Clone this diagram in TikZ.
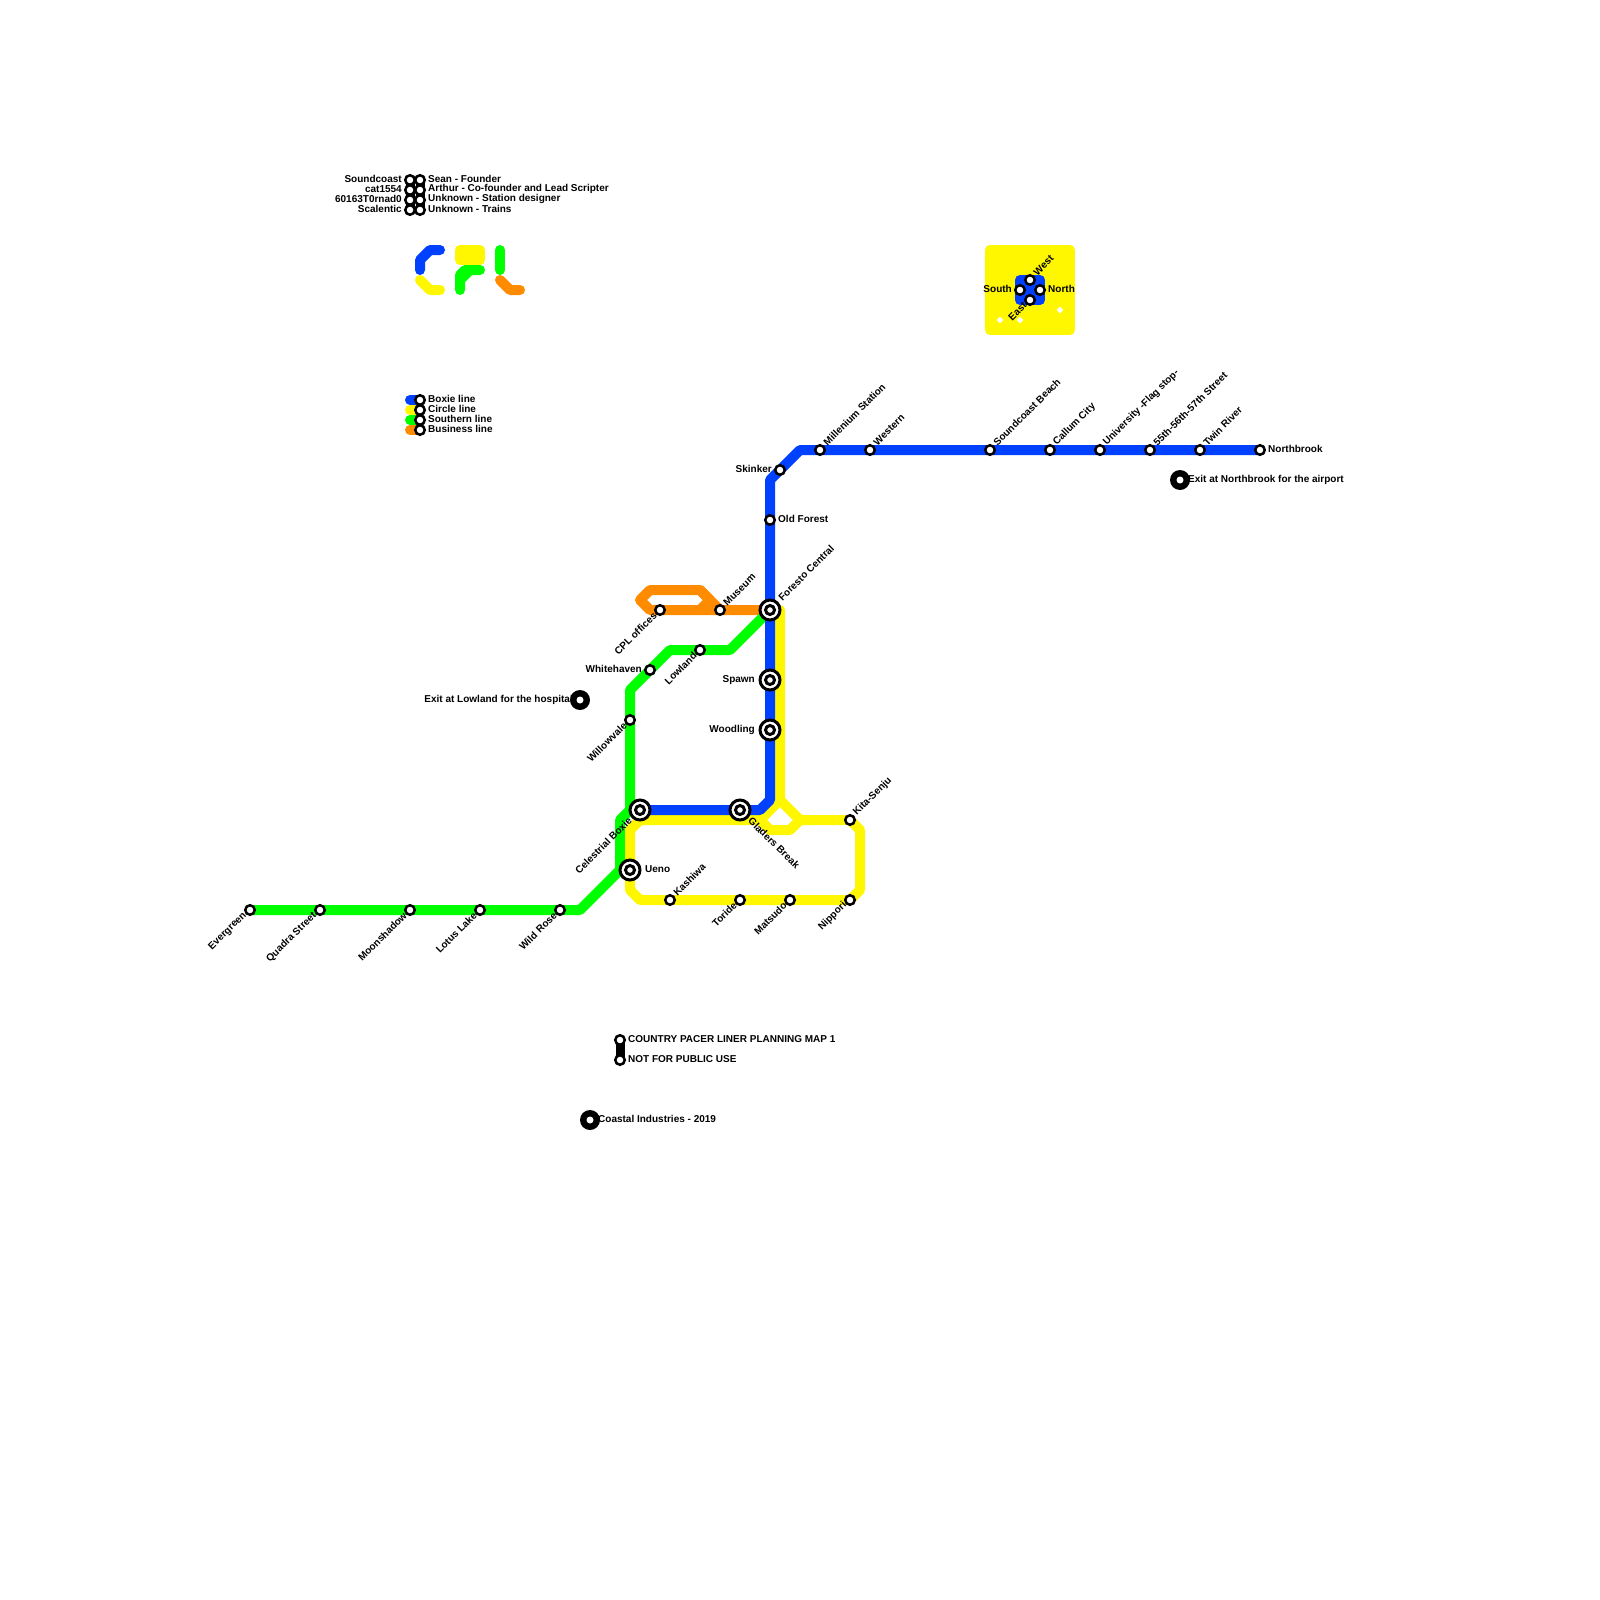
\documentclass[tikz,border=0pt]{standalone}
\usepackage{fontspec}
\setmainfont{Liberation Sans}
\usetikzlibrary{backgrounds, shapes.geometric}

\begin{document}
\begin{tikzpicture}[
    x=1pt, y=-1pt,
    % Define node styles
    stn/.style={circle, draw=black, fill=white, line width=2.5pt, minimum size=9.5pt, inner sep=0pt},
    hub/.style={circle, draw=black, fill=white, line width=3pt, minimum size=20pt, inner sep=0pt},
    hubin/.style={circle, draw=black, fill=white, line width=3pt, minimum size=9pt, inner sep=0pt},
    dot/.style={circle, fill=black, minimum size=20pt, inner sep=0pt},
    dotin/.style={circle, fill=white, minimum size=7pt, inner sep=0pt},
    spark/.style={diamond, fill=white, minimum size=7pt, inner sep=0pt},
    lbl/.style={font=\fontsize{10}{10}\selectfont\bfseries, inner sep=0pt, yshift=1pt},
    lblE/.style={lbl, anchor=west, xshift=8pt},
    lblW/.style={lbl, anchor=east, xshift=-8pt},
    lblNE/.style={lbl, rotate=45, anchor=west, xshift=7pt},
    lblSW/.style={lbl, rotate=45, anchor=east, xshift=-7pt},
    % Define edge styles
    edge/.style={line width=10pt, line cap=round, line join=round},
    link/.style={line width=9pt, draw=black},
]

\definecolor{boxie}{RGB}{0,64,255}
\definecolor{circleln}{RGB}{255,247,0}
\definecolor{southern}{RGB}{0,255,0}
\definecolor{business}{RGB}{255,140,0}

\useasboundingbox (0,0) rectangle (1600,1600);

% Drawing the stations with a label on the upper right
\foreach \nm/\x/\y/\txt in {Millenium/820/450/Millenium Station, Western/870/450/Western,
    SoundBeach/990/450/Soundcoast Beach, Callum/1050/450/Callum City, University/1100/450/University -Flag stop-,
    Fifty/1150/450/55th-56th-57th Street, TwinRiver/1200/450/Twin River, Museum/720/610/Museum,
    Kashiwa/670/900/Kashiwa, KitaSenju/850/820/Kita-Senju, West/1030/280/West} {
    \node[stn] (\nm) at (\x,\y) {};
    \node[lblNE] (\nm-l) at (\nm) {\txt};
}

% Drawing the stations with a label on the lower left
\foreach \nm/\x/\y/\txt in {Evergreen/250/910/Evergreen, Quadra/320/910/Quadra Street, Moonshadow/410/910/Moonshadow,
    Lotus/480/910/Lotus Lake, WildRose/560/910/Wild Rose, Willowvale/630/720/Willowvale, Lowland/700/650/Lowland,
    CPL/660/610/CPL offices, Toride/740/900/Toride, Matsudo/790/900/Matsudo, Nippori/850/900/Nippori, East/1030/300/East} {
    \node[stn] (\nm) at (\x,\y) {};
    \node[lblSW] (\nm-l) at (\nm) {\txt};
}

% Drawing the stations with a label on the right
\foreach \nm/\x/\y/\txt in {OldForest/770/520/Old Forest, Northbrook/1260/450/Northbrook, North/1040/290/North,
    Boxie/420/400/Boxie line, Circle/420/410/Circle line, Southern/420/420/Southern line, Business/420/430/Business line,
    Sean/420/180/Sean - Founder, Arthur/420/190/Arthur - Co-founder and Lead Scripter,
    Designer/420/200/Unknown - Station designer, Trains/420/210/Unknown - Trains,
    Country/620/1040/COUNTRY PACER LINER PLANNING MAP 1, Public/620/1060/NOT FOR PUBLIC USE} {
    \node[stn] (\nm) at (\x,\y) {};
    \node[lblE] (\nm-l) at (\nm) {\txt};
}

% Drawing the stations with a label on the left
\foreach \nm/\x/\y/\txt in {Skinker/780/470/Skinker, Whitehaven/650/670/Whitehaven, South/1020/290/South,
    Soundcoast/410/180/Soundcoast, Cat/410/190/cat1554, Tornado/410/200/60163T0rnad0, Scalentic/410/210/Scalentic} {
    \node[stn] (\nm) at (\x,\y) {};
    \node[lblW] (\nm-l) at (\nm) {\txt};
}

% Drawing the interchanges
\foreach \nm/\x/\y in {Foresto/770/610, Spawn/770/680, Woodling/770/730, Celestrial/640/810, Gladers/740/810, Ueno/630/870} {
    \node[hub] (\nm) at (\x,\y) {};
    \node[hubin] (\nm-in) at (\x,\y) {};
}
\node[lbl, rotate=45, anchor=west, xshift=14pt] (Foresto-l) at (Foresto) {Foresto Central};
\node[lbl, anchor=east, xshift=-15pt, yshift=-1pt] (Spawn-l) at (Spawn) {Spawn};
\node[lbl, anchor=east, xshift=-15pt, yshift=-1pt] (Woodling-l) at (Woodling) {Woodling};
\node[lbl, rotate=45, anchor=east, xshift=-14pt] (Celestrial-l) at (Celestrial) {Celestrial Boxie};
\node[lbl, rotate=-45, anchor=west, xshift=14pt] (Gladers-l) at (Gladers) {Gladers Break};
\node[lbl, anchor=west, xshift=15pt] (Ueno-l) at (Ueno) {Ueno};

% Drawing the exit dots
\foreach \nm/\x/\y in {AirportDot/1180/480, HospitalDot/580/700, CoastalDot/590/1120} {
    \node[dot] (\nm) at (\x,\y) {};
    \node[dotin] (\nm-in) at (\x,\y) {};
}
\node[lbl, anchor=west, xshift=8pt, yshift=-1pt] (Airport) at (AirportDot) {Exit at Northbrook for the airport};
\node[lbl, anchor=east, xshift=-7pt, yshift=-1pt] (Hospital) at (HospitalDot) {Exit at Lowland for the hospital};
\node[lbl, anchor=west, xshift=8pt] (Coastal) at (CoastalDot) {Coastal Industries - 2019};

% Drawing the bends of the lines
\foreach \nm/\x/\y in {ba/800/450, bb/770/480, bc/770/800, bd/760/810,
    ga/580/910, gb/620/870, gc/620/820, gd/630/810, ge/630/690, gf/670/650, gg/730/650,
    oa/650/610, ob/640/600, oc/650/590, od/700/590, oe/710/600, of/700/610,
    ya/780/610, yb/780/800, yc/800/820, yd/860/830, ye/860/890, yf/640/900, yg/630/890, yh/630/830, yi/640/820,
    yj/760/820, yk/770/830, yl/790/830} {
    \coordinate (\nm) at (\x,\y);
}

% Drawing the lines behind the stations
\begin{scope}[on background layer]
    % Business line
    \draw[edge, business] (Foresto.center) -- (Museum.center) -- (CPL.center) -- (oa) -- (ob) -- (oc) -- (od) -- (Museum.center);
    \draw[edge, business] (od) -- (oe) -- (of);
    % Southern line
    \draw[edge, southern] (Evergreen.center) -- (WildRose.center) -- (ga) -- (gb) -- (gc) -- (gd) -- (ge) -- (gf) -- (gg) -- (Foresto.center);
    % Circle line
    \draw[edge, circleln] (ya) -- (yb) -- (yc) -- (KitaSenju.center) -- (yd) -- (ye) -- (Nippori.center) -- (yf) -- (yg) -- (yh) -- (yi) -- (yj) -- (yb);
    \draw[edge, circleln] (yj) -- (yk) -- (yl) -- (yc);
    % Boxie line
    \draw[edge, boxie] (Northbrook.center) -- (ba) -- (bb) -- (bc) -- (bd) -- (Celestrial.center);

    % Logo and legend lines
    \draw[edge, boxie] (420,270) -- (420,260) -- (430,250) -- (440,250);
    \draw[edge, circleln] (420,280) -- (430,290) -- (440,290);
    \draw[edge, circleln, fill=circleln] (460,250) -- (480,250) -- (480,260) -- (460,260) -- cycle;
    \draw[edge, southern] (460,290) -- (460,280) -- (470,270) -- (480,270);
    \draw[edge, southern] (460,280) -- (460,275) -- (465,270) -- (470,270);
    \draw[edge, southern] (500,250) -- (500,270);
    \draw[edge, business] (500,280) -- (510,290) -- (520,290);
    \draw[edge, boxie] (Boxie.center) -- ++(-10,0);
    \draw[edge, circleln] (Circle.center) -- ++(-10,0);
    \draw[edge, southern] (Southern.center) -- ++(-10,0);
    \draw[edge, business] (Business.center) -- ++(-10,0);

    % Black links
    \draw[link] (Country.center) -- (Public.center);
    \draw[link] (Soundcoast.center) -- (Scalentic.center);
    \draw[link] (Sean.center) -- (Trains.center);

    % The square of the four stations
    \draw[edge, circleln, fill=circleln] (990,250) rectangle (1070,330);
    \draw[edge, boxie, fill=boxie] (1020,280) rectangle (1040,300);
\end{scope}

% Drawing the white sparks
\node[spark] (sparka) at (1000,320) {};
\node[spark] (sparkb) at (1020,320) {};
\node[spark] (sparkc) at (1060,310) {};

\end{tikzpicture}
\end{document}
